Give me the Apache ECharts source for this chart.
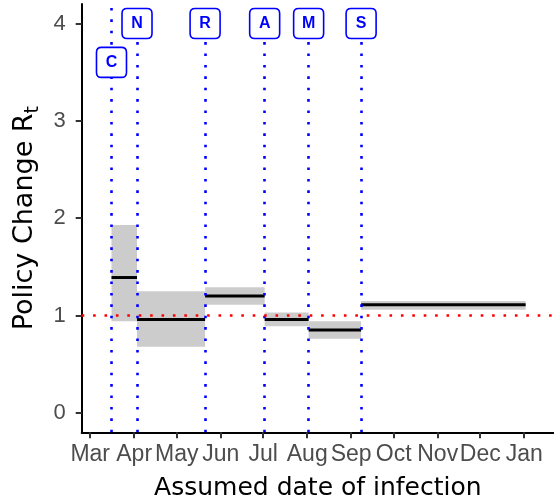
<!DOCTYPE html>
<html>
<head>
<meta charset="utf-8">
<script src="https://cdn.jsdelivr.net/npm/echarts@6/dist/echarts.min.js"></script>
<style>
  html, body { margin: 0; padding: 0; background: #fff; }
  #chart { width: 554px; height: 501px; }
</style>
</head>
<body>
<div id="chart"></div>
<script>
// month ticks on the date axis
const monthLabels = ['Mar', 'Apr', 'May', 'Jun', 'Jul', 'Aug', 'Sep', 'Oct', 'Nov', 'Dec', 'Jan']
const monthStarts = ['2020-03-01', '2020-04-01', '2020-05-01', '2020-06-01', '2020-07-01', '2020-08-01',
  '2020-09-01', '2020-10-01', '2020-11-01', '2020-12-01', '2021-01-01']
const yTicks = [0, 1, 2, 3, 4]

// policy changes
const policyCodes = ['C', 'N', 'R', 'A', 'M', 'S']
const policyDates = ['2020-03-16', '2020-04-03', '2020-05-21', '2020-07-02', '2020-08-02', '2020-09-08']
const policyLabelY = [3.6, 4, 4, 4, 4, 4]

// Rt per period between changes
const segStart = ['2020-03-16', '2020-04-03', '2020-05-21', '2020-07-02', '2020-08-02', '2020-09-08']
const segEnd = ['2020-04-03', '2020-05-21', '2020-07-02', '2020-08-02', '2020-09-08', '2021-01-02']
const rtEstimate = [1.39, 0.96, 1.20, 0.96, 0.85, 1.11]
const rtLower = [0.94, 0.68, 1.11, 0.89, 0.76, 1.06]
const rtUpper = [1.93, 1.25, 1.29, 1.03, 0.94, 1.15]
const referenceR = 1

function toTime (s) {
  const p = s.split('-').map(Number)
  return new Date(p[0], p[1] - 1, p[2]).getTime()
}

const monthTimes = monthStarts.map(toTime)
const FONT = 'Liberation Sans'
const TITLE_FONT = 'DejaVu Sans'

const chart = echarts.init(document.getElementById('chart'))

const segData = segStart.map((s, i) => [toTime(s), toTime(segEnd[i]), rtLower[i], rtUpper[i], rtEstimate[i]])
const labelData = policyDates.map((d, i) => [toTime(d), policyLabelY[i], policyCodes[i]])

const dotted = color => ({ color: color, width: 2.6, type: [2.6, 8.8] })

const option = {
  animation: false,
  grid: {
    left: 81.7,
    right: 0,
    top: 4,
    bottom: 68.7,
    outerBoundsMode: 'none'
  },
  xAxis: {
    // dates as timestamps on a plain value axis, month starts as ticks
    type: 'value',
    min: toTime('2020-02-24'),
    max: toTime('2021-01-22'),
    name: 'Assumed date of infection',
    nameLocation: 'middle',
    nameGap: 44,
    nameTextStyle: {
      fontFamily: TITLE_FONT,
      fontSize: 25,
      color: '#000'
    },
    axisLine: {
      onZero: false,
      lineStyle: { color: '#000', width: 2 }
    },
    axisTick: {
      show: true,
      length: 6,
      customValues: monthTimes,
      lineStyle: { color: '#333', width: 2 }
    },
    axisLabel: {
      customValues: monthTimes,
      margin: 11,
      fontFamily: FONT,
      fontSize: 23,
      color: '#4d4d4d',
      formatter: function (value) {
        let idx = 0
        monthTimes.forEach((t, i) => {
          if (Math.abs(t - value) < Math.abs(monthTimes[idx] - value)) idx = i
        })
        return monthLabels[idx]
      }
    },
    splitLine: { show: false }
  },
  yAxis: {
    type: 'value',
    min: -0.2,
    max: 4.2,
    name: '{a|Policy Change R}{b|t}',
    nameLocation: 'middle',
    nameGap: 39,
    nameTextStyle: {
      rich: {
        a: { fontFamily: TITLE_FONT, fontSize: 27, color: '#000', lineHeight: 36 },
        b: { fontFamily: TITLE_FONT, fontSize: 19, color: '#000', lineHeight: 16, verticalAlign: 'bottom' }
      }
    },
    axisLine: {
      show: true,
      onZero: false,
      lineStyle: { color: '#000', width: 2 }
    },
    axisTick: {
      show: true,
      length: 6,
      customValues: yTicks,
      lineStyle: { color: '#333', width: 2 }
    },
    axisLabel: {
      customValues: yTicks,
      margin: 16,
      fontFamily: FONT,
      fontSize: 22,
      color: '#4d4d4d'
    },
    splitLine: { show: false }
  },
  series: [
    {
      // credible interval boxes
      type: 'custom',
      z: 1,
      data: segData,
      encode: { x: [0, 1], y: [2, 3] },
      renderItem: function (params, api) {
        const p1 = api.coord([api.value(0), api.value(3)])
        const p2 = api.coord([api.value(1), api.value(2)])
        return {
          type: 'rect',
          shape: { x: p1[0], y: p1[1], width: p2[0] - p1[0], height: p2[1] - p1[1] },
          style: { fill: '#cccccc' }
        }
      }
    },
    {
      // Rt estimate per period
      type: 'custom',
      z: 2,
      data: segData,
      encode: { x: [0, 1], y: 4 },
      renderItem: function (params, api) {
        const p1 = api.coord([api.value(0), api.value(4)])
        const p2 = api.coord([api.value(1), api.value(4)])
        return {
          type: 'line',
          shape: { x1: p1[0], y1: p1[1], x2: p2[0], y2: p2[1] },
          style: { stroke: '#000', lineWidth: 3 }
        }
      }
    },
    {
      type: 'line',
      z: 3,
      data: [],
      markLine: {
        silent: true,
        symbol: 'none',
        label: { show: false },
        animation: false,
        data: policyDates.map(d => ({
          xAxis: toTime(d),
          lineStyle: dotted('#0000ff')
        })).concat([{
          yAxis: referenceR,
          lineStyle: dotted('#ff0000')
        }])
      }
    },
    {
      // policy code labels
      type: 'scatter',
      z: 5,
      data: labelData,
      symbol: 'path://M5 0H25Q30 0 30 5V25Q30 30 25 30H5Q0 30 0 25V5Q0 0 5 0Z',
      symbolSize: [30, 30],
      itemStyle: {
        color: '#fff',
        borderColor: '#0000ff',
        borderWidth: 1.6,
        opacity: 1
      },
      label: {
        show: true,
        position: 'inside',
        formatter: p => p.data[2],
        fontFamily: FONT,
        fontWeight: 'bold',
        fontSize: 16,
        color: '#0000ff'
      }
    }
  ]
}

chart.setOption(option)
</script>
</body>
</html>
